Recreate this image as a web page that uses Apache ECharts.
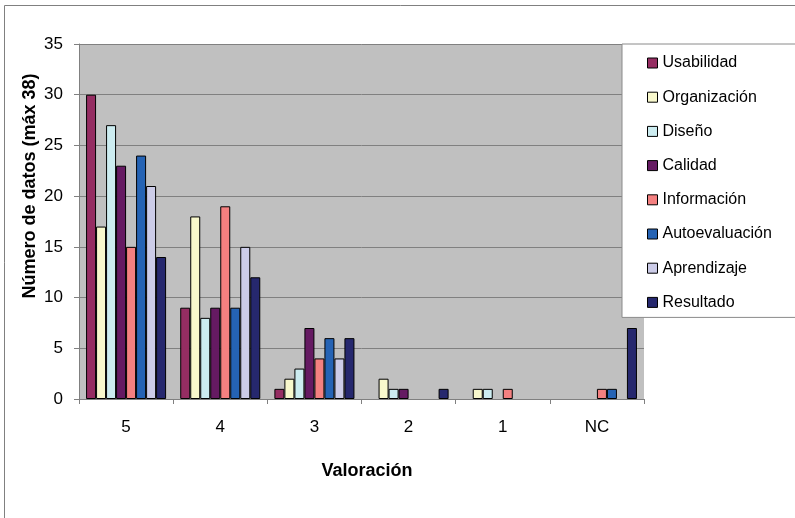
<!DOCTYPE html>
<html>
<head>
<meta charset="utf-8">
<script src="https://cdn.jsdelivr.net/npm/echarts@6/dist/echarts.min.js"></script>
<style>
html,body{margin:0;padding:0;background:#fff;}
#c{width:795px;height:518px;}
</style>
</head>
<body>
<div id="c"></div>
<script>
var categories = ['5', '4', '3', '2', '1', 'NC'];
var seriesNames = ['Usabilidad', 'Organización', 'Diseño', 'Calidad', 'Información', 'Autoevaluación', 'Aprendizaje', 'Resultado'];
var usabilidad     = [30, 9, 1, 0, 0, 0];
var organizacion   = [17, 18, 2, 2, 1, 0];
var diseno         = [27, 8, 3, 1, 1, 0];
var calidad        = [23, 9, 7, 1, 0, 0];
var informacion    = [15, 19, 4, 0, 1, 1];
var autoevaluacion = [24, 9, 6, 0, 0, 1];
var aprendizaje    = [21, 15, 4, 0, 0, 0];
var resultado      = [14, 12, 6, 1, 0, 7];
var yTicks = [0, 5, 10, 15, 20, 25, 30, 35];

var values = [usabilidad, organizacion, diseno, calidad, informacion, autoevaluacion, aprendizaje, resultado];
var colors = ['#952D62', '#F8F8CC', '#CCECF0', '#651A62', '#F48080', '#2563B4', '#CCCCE8', '#26286E'];
var FONT = 'Liberation Sans, Arial, sans-serif';

var chart = echarts.init(document.getElementById('c'), null, {renderer: 'canvas'});
var series = seriesNames.map(function (n, i) {
  return {
    name: n,
    type: 'bar',
    // zero counts are not drawn as bars (as in the original chart)
    data: values[i].map(function (v) { return v === 0 ? null : v; }),
    barGap: '0%',
    barCategoryGap: '15%',
    itemStyle: {color: colors[i], borderColor: '#000', borderWidth: 1},
    emphasis: {disabled: true},
    animation: false
  };
});

chart.setOption({
  animation: false,
  color: colors,
  textStyle: {fontFamily: FONT},
  grid: {
    left: 79, right: 151, top: 44, bottom: 119,
    show: true, backgroundColor: '#C0C0C0', borderWidth: 0
  },
  legend: {
    orient: 'vertical',
    left: 622, top: 44,
    data: seriesNames,
    backgroundColor: '#fff',
    borderColor: '#8a8a8a',
    borderWidth: 1,
    padding: [11, 60, 7, 25],
    itemWidth: 10, itemHeight: 10,
    itemGap: 18.2,
    icon: 'rect',
    selectedMode: false,
    itemStyle: {borderColor: '#000', borderWidth: 1},
    textStyle: {fontSize: 16, lineHeight: 16, color: '#000', fontFamily: FONT}
  },
  xAxis: {
    type: 'category',
    data: categories,
    axisLine: {lineStyle: {color: '#808080', width: 1}},
    axisTick: {show: true, length: 5, lineStyle: {color: '#808080'}},
    axisLabel: {fontSize: 17, color: '#000', margin: 20, fontFamily: FONT},
    splitLine: {show: false}
  },
  yAxis: {
    type: 'value',
    min: yTicks[0], max: yTicks[yTicks.length - 1], interval: 5,
    axisLine: {show: true, lineStyle: {color: '#808080', width: 1}},
    axisTick: {show: true, length: 5, lineStyle: {color: '#808080'}},
    axisLabel: {fontSize: 17, color: '#000', margin: 16, fontFamily: FONT},
    splitLine: {show: true, lineStyle: {color: '#808080', width: 1}}
  },
  graphic: [
    {type: 'rect', silent: true, z: -10,
     shape: {x: 4.5, y: 5.5, width: 900, height: 700},
     style: {fill: 'none', stroke: '#808080', lineWidth: 1}},
    {type: 'text', silent: true, x: 30, y: 186, rotation: Math.PI / 2,
     style: {text: 'Número de datos (máx 38)', font: 'bold 18px ' + FONT, fill: '#000', align: 'center', verticalAlign: 'middle'}},
    {type: 'text', silent: true, x: 367, y: 471,
     style: {text: 'Valoración', font: 'bold 18px ' + FONT, fill: '#000', align: 'center', verticalAlign: 'middle'}}
  ],
  series: series
});
</script>
</body>
</html>
